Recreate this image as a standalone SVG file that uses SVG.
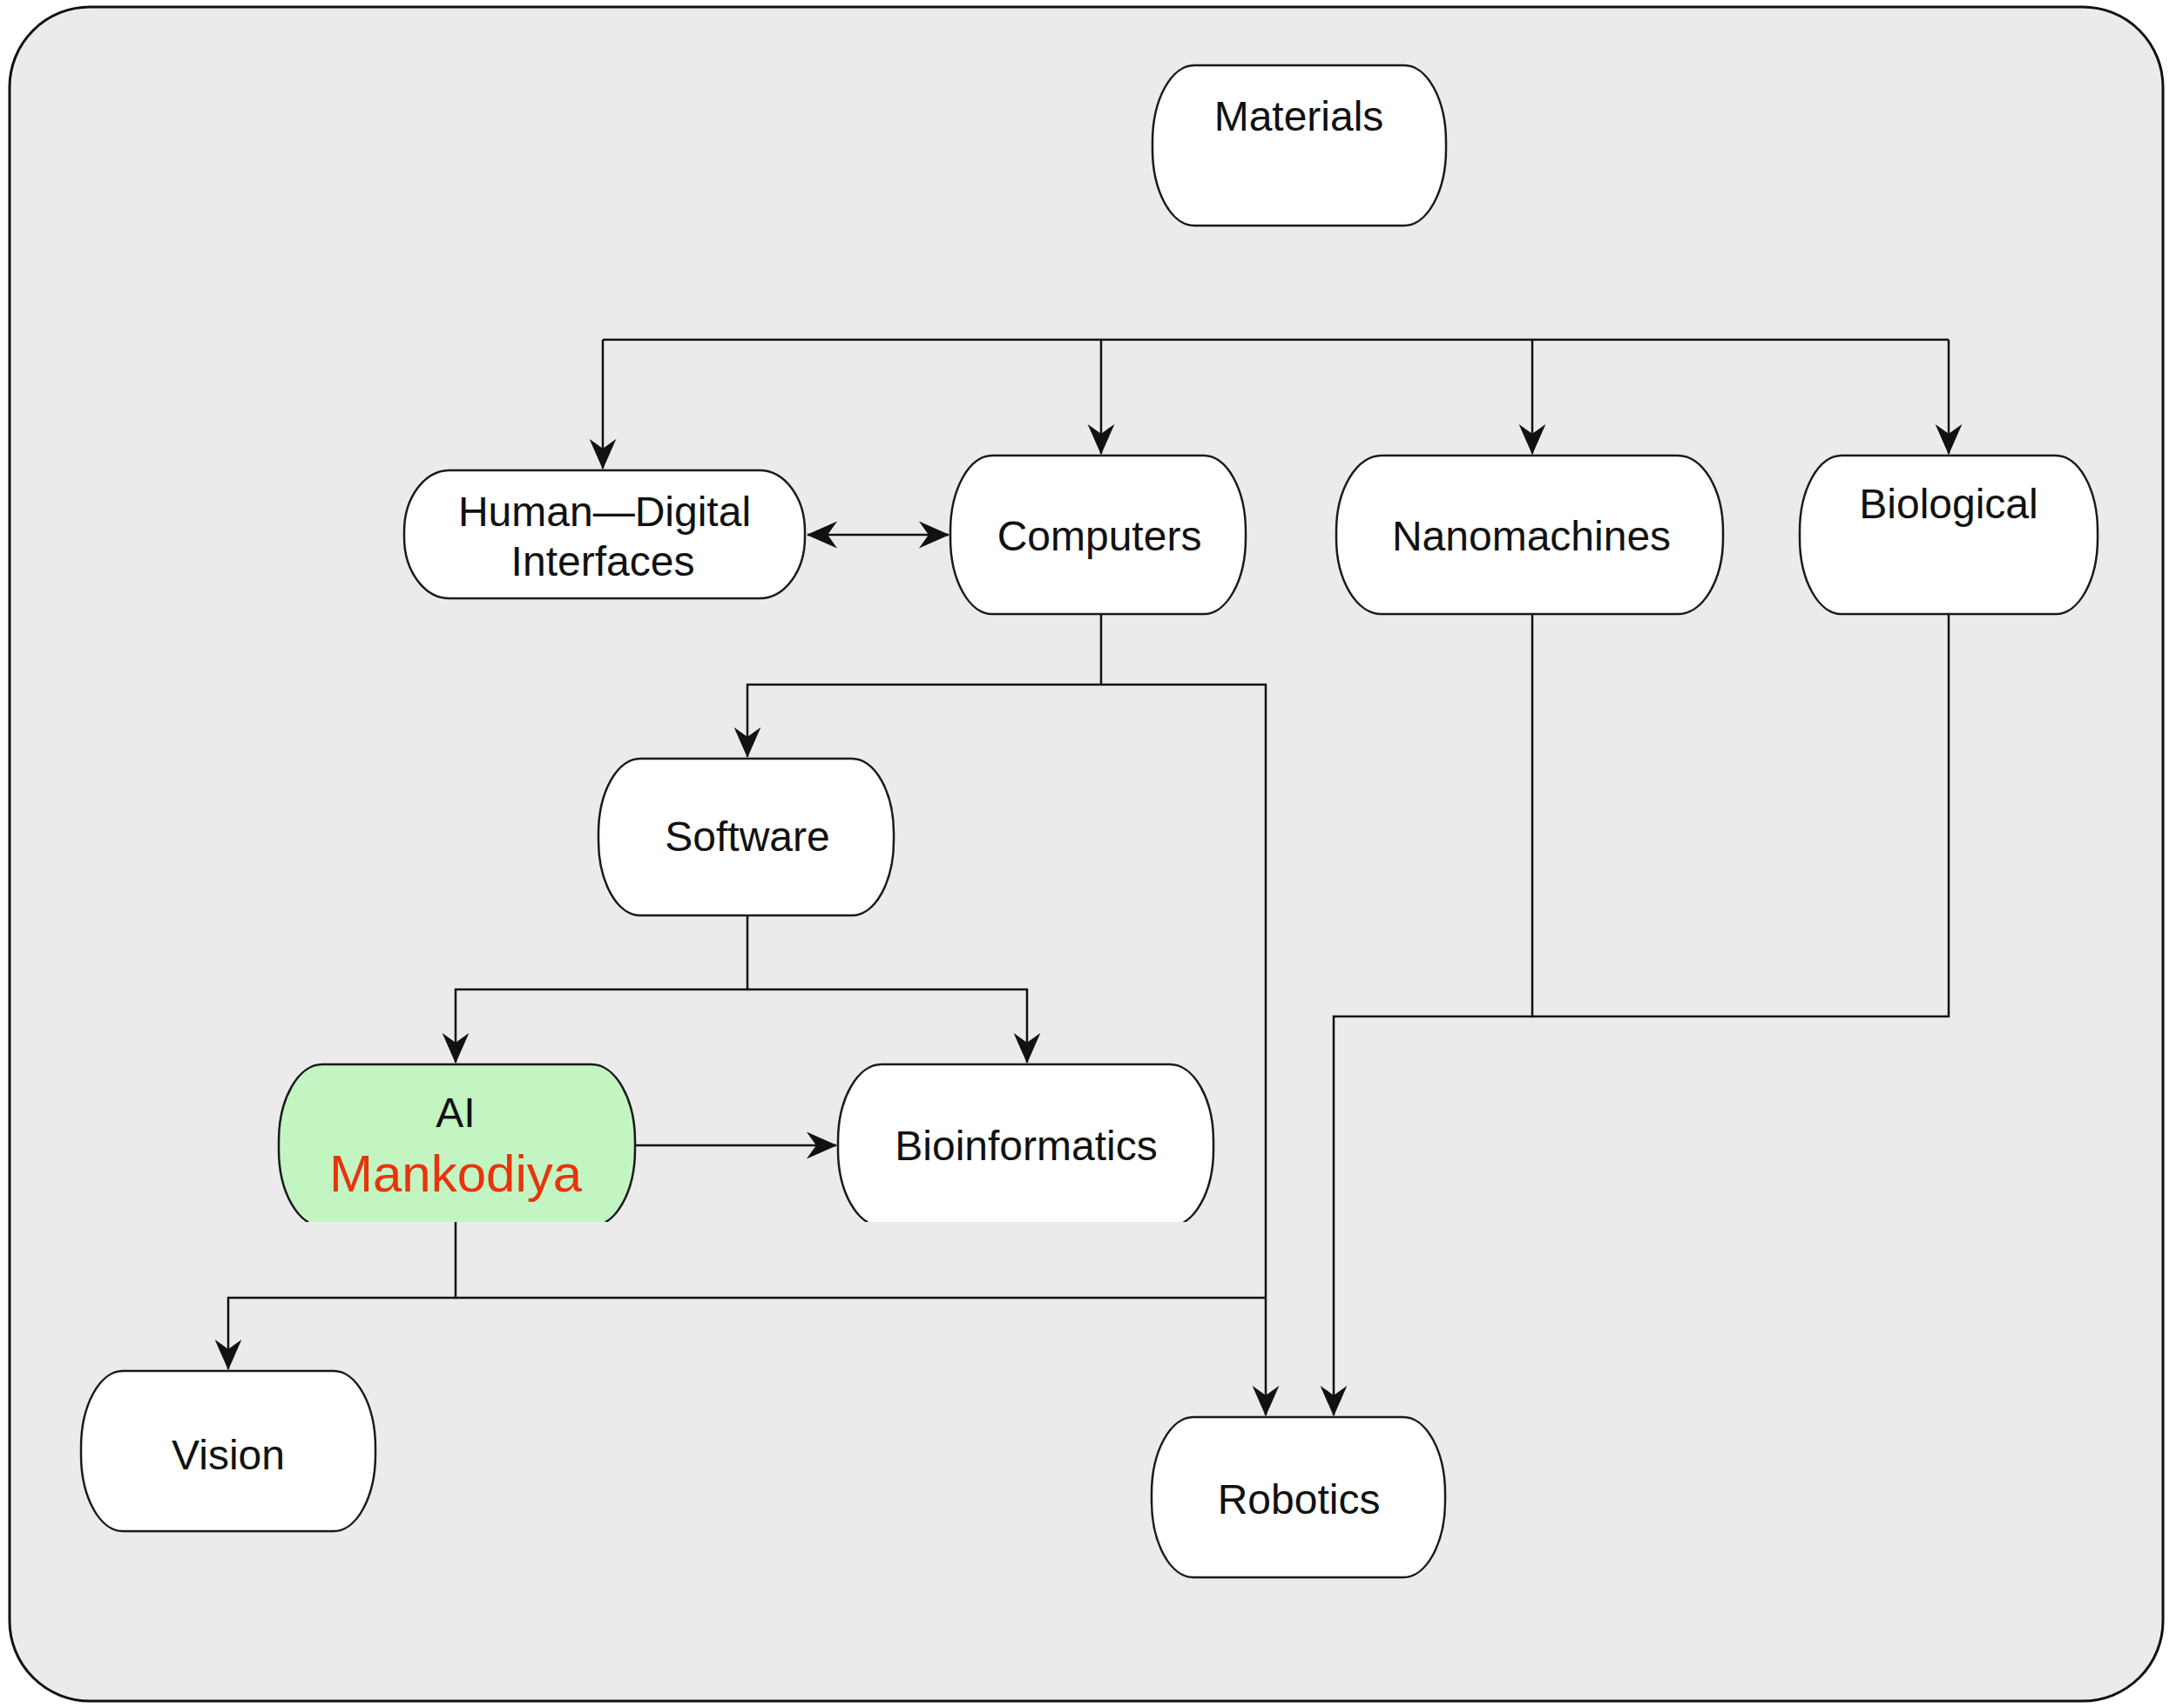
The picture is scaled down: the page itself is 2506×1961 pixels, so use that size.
<svg xmlns="http://www.w3.org/2000/svg" width="2506" height="1961" viewBox="0 0 2506 1961">
  <style>
    .node { fill: #ffffff; stroke: #1a1a1a; stroke-width: 2.5; }
    .ai { fill: #c2f5c2; }
    .lbl { font-family: "Liberation Sans", Arial, Helvetica, sans-serif; font-size: 48px; fill: #111111; text-anchor: middle; }
    .red { font-size: 60px; fill: #e8340c; }
    .wire { fill: none; stroke: #111111; stroke-width: 2.5; }
  </style>
  <defs>
    <marker id="arrow" markerUnits="userSpaceOnUse" markerWidth="44" markerHeight="44" viewBox="-36 -18 40 36" refX="0" refY="0" orient="auto-start-reverse">
      <path d="M1,0 L-31,-14 L-21,0 L-31,14 Z" fill="#111111"/>
    </marker>
    <clipPath id="cutBottom">
      <rect x="0" y="0" width="2506" height="1403"/>
    </clipPath>
  </defs>

  <!-- canvas frame -->
  <rect x="11" y="8" width="2472" height="1945" rx="92" ry="92" fill="#ebebeb" stroke="#111111" stroke-width="3"/>

  <!-- connectors -->
  <g id="connectors">
    <!-- distribution bus to the top row -->
    <path class="wire" d="M692,390 H2237"/>
    <path class="wire" d="M692,390 V538" marker-end="url(#arrow)"/>
    <path class="wire" d="M1264,390 V521" marker-end="url(#arrow)"/>
    <path class="wire" d="M1759,390 V521" marker-end="url(#arrow)"/>
    <path class="wire" d="M2237,390 V521" marker-end="url(#arrow)"/>
    <!-- interfaces <-> computers -->
    <path class="wire" d="M927,614 H1089" marker-start="url(#arrow)" marker-end="url(#arrow)"/>
    <!-- computers -->
    <path class="wire" d="M1264,705 V786 H858 V869" marker-end="url(#arrow)"/>
    <path class="wire" d="M1264,786 H1453 V1625" marker-end="url(#arrow)"/>
    <!-- software -->
    <path class="wire" d="M858,1051 V1136 H523 V1220" marker-end="url(#arrow)"/>
    <path class="wire" d="M858,1136 H1179 V1220" marker-end="url(#arrow)"/>
    <!-- AI -->
    <path class="wire" d="M729,1315 H960" marker-end="url(#arrow)"/>
    <path class="wire" d="M523,1403 V1490 H262 V1572" marker-end="url(#arrow)"/>
    <path class="wire" d="M523,1490 H1453"/>
    <!-- nanomachines / biological -->
    <path class="wire" d="M1759,705 V1167 H1531 V1625" marker-end="url(#arrow)"/>
    <path class="wire" d="M2237,705 V1167 H1759"/>
  </g>

  <g id="materials">
    <rect class="node" x="1323" y="75" width="337" height="184" rx="48" ry="88"/>
    <text class="lbl" x="1491" y="150">Materials</text>
  </g>

  <g id="human-digital">
    <rect class="node" x="464" y="540" width="460" height="147" rx="52" ry="70"/>
    <text class="lbl" x="694" y="604">Human—Digital</text>
    <text class="lbl" x="692" y="661">Interfaces</text>
  </g>

  <g id="computers">
    <rect class="node" x="1091" y="523" width="339" height="182" rx="48" ry="87"/>
    <text class="lbl" x="1262" y="632">Computers</text>
  </g>

  <g id="nanomachines">
    <rect class="node" x="1534" y="523" width="444" height="182" rx="52" ry="87"/>
    <text class="lbl" x="1758" y="632">Nanomachines</text>
  </g>

  <g id="biological">
    <rect class="node" x="2066" y="523" width="342" height="182" rx="48" ry="87"/>
    <text class="lbl" x="2237" y="595">Biological</text>
  </g>

  <g id="software">
    <rect class="node" x="687" y="871" width="339" height="180" rx="48" ry="86"/>
    <text class="lbl" x="858" y="977">Software</text>
  </g>

  <g id="ai">
    <rect class="node ai" x="320" y="1222" width="409" height="186" rx="50" ry="88" clip-path="url(#cutBottom)"/>
    <text class="lbl" x="523" y="1294" font-size="44">AI</text>
    <text class="lbl red" x="523" y="1368">Mankodiya</text>
  </g>

  <g id="bioinformatics">
    <rect class="node" x="962" y="1222" width="431" height="186" rx="50" ry="88" clip-path="url(#cutBottom)"/>
    <text class="lbl" x="1178" y="1332">Bioinformatics</text>
  </g>

  <g id="vision">
    <rect class="node" x="93" y="1574" width="338" height="184" rx="48" ry="88"/>
    <text class="lbl" x="262" y="1687">Vision</text>
  </g>

  <g id="robotics">
    <rect class="node" x="1322" y="1627" width="337" height="184" rx="48" ry="88"/>
    <text class="lbl" x="1491" y="1738">Robotics</text>
  </g>
</svg>
